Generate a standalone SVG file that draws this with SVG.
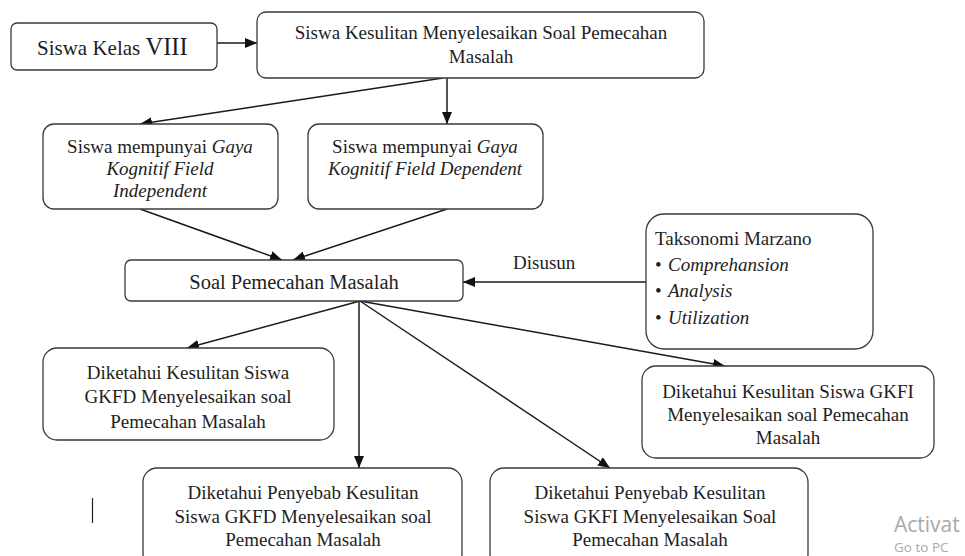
<svg xmlns="http://www.w3.org/2000/svg" width="965" height="556" viewBox="0 0 965 556">
<style>
.box{fill:#fff;stroke:#3a3a3a;stroke-width:1.3}
.t{font-family:"Liberation Serif","Times New Roman",serif;font-size:19px;fill:#1e1e1e}
.c{text-anchor:middle}
.i{font-style:italic}
.ln{fill:none;stroke:#1a1a1a;stroke-width:1.5;marker-end:url(#ah)}
.wm{font-family:"Open Sans","Noto Sans",sans-serif;fill:#a9a9a9}
</style>
<defs>
<marker id="ah" markerUnits="userSpaceOnUse" markerWidth="12" markerHeight="10" refX="12" refY="5" orient="auto">
<path d="M0,0 L12,5 L0,10 z" fill="#111"/>
</marker>
</defs>
<rect width="965" height="556" fill="#fff"/>
<g id="connectors">
<path class="ln" d="M217,43 L257,43"/>
<path class="ln" d="M443,78 L140,124"/>
<path class="ln" d="M447,78 L447,124"/>
<path class="ln" d="M140,209 L282,260"/>
<path class="ln" d="M447,209 L293,260"/>
<path class="ln" d="M646,282 L463,282"/>
<path class="ln" d="M360,301 L187,348"/>
<path class="ln" d="M359,301 L359,468"/>
<path class="ln" d="M360,301 L610,468"/>
<path class="ln" d="M360,301 L725,366"/>
</g>
<g id="n-kelas">
<rect class="box" x="11" y="23" width="206" height="47" rx="6"/>
<text class="t" x="37" y="55" style="font-size:21px">Siswa Kelas <tspan style="font-size:24.5px">VIII</tspan></text>
</g>
<g id="n-kesulitan">
<rect class="box" x="257" y="12" width="447" height="66" rx="9"/>
<text class="t c" x="481" y="39">Siswa Kesulitan Menyelesaikan Soal Pemecahan</text>
<text class="t c" x="481" y="63">Masalah</text>
</g>
<g id="n-fi">
<rect class="box" x="43" y="124" width="235" height="85" rx="11"/>
<text class="t c" x="160" y="153">Siswa mempunyai <tspan class="i">Gaya</tspan></text>
<text class="t c i" x="160" y="175">Kognitif Field</text>
<text class="t c i" x="160" y="197">Independent</text>
</g>
<g id="n-fd">
<rect class="box" x="308" y="124" width="235" height="85" rx="11"/>
<text class="t c" x="425" y="153">Siswa mempunyai <tspan class="i">Gaya</tspan></text>
<text class="t c i" x="425" y="175">Kognitif Field Dependent</text>
</g>
<g id="n-soal">
<rect class="box" x="125" y="260" width="338" height="41" rx="6"/>
<text class="t c" x="294" y="289" style="font-size:20.5px">Soal Pemecahan Masalah</text>
</g>
<g id="l-disusun">
<text class="t" x="513" y="269">Disusun</text>
</g>
<g id="n-taksonomi">
<rect class="box" x="646" y="214" width="227" height="135" rx="18"/>
<text class="t" x="655" y="245">Taksonomi Marzano</text>
<text class="t" x="655" y="271">•</text><text class="t i" x="668" y="271">Comprehansion</text>
<text class="t" x="655" y="297">•</text><text class="t i" x="668" y="297">Analysis</text>
<text class="t" x="655" y="324">•</text><text class="t i" x="668" y="324">Utilization</text>
</g>
<g id="n-kes-gkfd">
<rect class="box" x="43" y="348" width="291" height="92" rx="14"/>
<text class="t c" x="188" y="379">Diketahui Kesulitan Siswa</text>
<text class="t c" x="188" y="403">GKFD Menyelesaikan soal</text>
<text class="t c" x="188" y="428">Pemecahan Masalah</text>
</g>
<g id="n-kes-gkfi">
<rect class="box" x="642" y="366" width="292" height="92" rx="14"/>
<text class="t c" x="788" y="398">Diketahui Kesulitan Siswa GKFI</text>
<text class="t c" x="788" y="421">Menyelesaikan soal Pemecahan</text>
<text class="t c" x="788" y="444">Masalah</text>
</g>
<g id="n-peny-gkfd">
<rect class="box" x="143" y="468" width="319" height="100" rx="14"/>
<text class="t c" x="303" y="499">Diketahui Penyebab Kesulitan</text>
<text class="t c" x="303" y="523">Siswa GKFD Menyelesaikan soal</text>
<text class="t c" x="303" y="546">Pemecahan Masalah</text>
</g>
<g id="n-peny-gkfi">
<rect class="box" x="490" y="468" width="318" height="100" rx="14"/>
<text class="t c" x="650" y="499">Diketahui Penyebab Kesulitan</text>
<text class="t c" x="650" y="523">Siswa GKFI Menyelesaikan Soal</text>
<text class="t c" x="650" y="546">Pemecahan Masalah</text>
</g>
<line x1="92.5" y1="498" x2="92.5" y2="523" stroke="#222" stroke-width="1.2"/>
<text class="wm" x="894" y="532" style="font-size:21px">Activat</text>
<text class="wm" x="894" y="552" style="font-size:13.5px">Go to PC</text>
</svg>
